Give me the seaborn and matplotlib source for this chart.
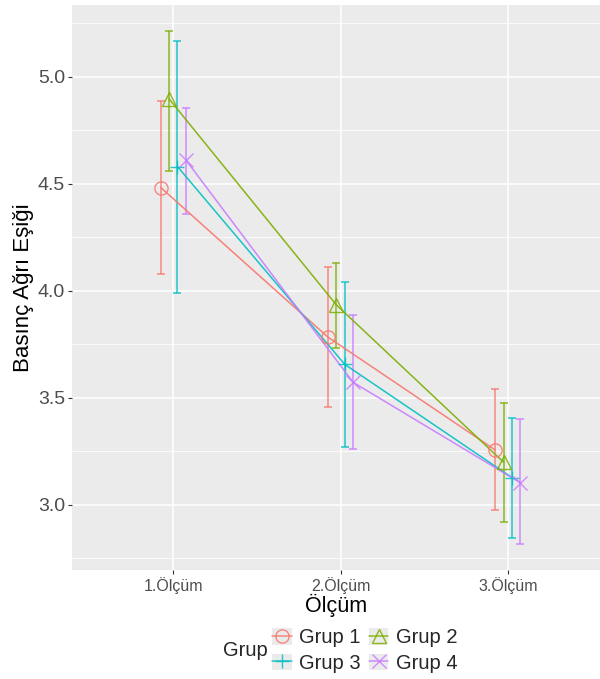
import numpy as np
import pandas as pd
import matplotlib
matplotlib.use("Agg")
import matplotlib.pyplot as plt
from matplotlib.lines import Line2D
from matplotlib.patches import Patch
from matplotlib.legend_handler import HandlerTuple
import seaborn as sns

# ---- data ----
categories = ["1.Ölçüm", "2.Ölçüm", "3.Ölçüm"]
groups = ["Grup 1", "Grup 2", "Grup 3", "Grup 4"]
means = {
    "Grup 1": [4.483, 3.784, 3.257],
    "Grup 2": [4.897, 3.935, 3.200],
    "Grup 3": [4.581, 3.657, 3.128],
    "Grup 4": [4.612, 3.573, 3.104],
}
lower = {
    "Grup 1": [4.078, 3.458, 2.977],
    "Grup 2": [4.561, 3.734, 2.922],
    "Grup 3": [3.992, 3.272, 2.844],
    "Grup 4": [4.360, 3.262, 2.816],
}
upper = {
    "Grup 1": [4.886, 4.111, 3.541],
    "Grup 2": [5.216, 4.132, 3.478],
    "Grup 3": [5.170, 4.042, 3.405],
    "Grup 4": [4.853, 3.886, 3.402],
}
y_ticks = [3.0, 3.5, 4.0, 4.5, 5.0]

colors = ["#F8766D", "#7CAE00", "#00BFC4", "#C77CFF"]
markers = ["o", "^", "+", "x"]

rows = []
for gi, g in enumerate(groups):
    for ci, c in enumerate(categories):
        rows.append(dict(grup=g, olcum=c, ci=ci, gi=gi,
                         mean=means[g][ci], lo=lower[g][ci], hi=upper[g][ci]))
df = pd.DataFrame(rows)
dodge_w = 0.2
n = len(groups)
df["x"] = df["ci"] + 1 + (df["gi"] - (n - 1) / 2) * dodge_w / n

sns.set_theme(style="darkgrid")
plt.rcParams["font.family"] = ["Liberation Sans", "DejaVu Sans"]

fig = plt.figure(figsize=(6.0, 6.79), dpi=100)
ax = fig.add_axes([72 / 600, 1 - 570 / 679, (600 - 72) / 600, (570 - 5) / 679])
ax.set_facecolor("#EBEBEB")

palette = dict(zip(groups, colors))
sns.lineplot(data=df, x="x", y="mean", hue="grup", palette=palette,
             estimator=None, sort=True, lw=1.1, legend=False, ax=ax, zorder=3,
             alpha=0.9)

for gi, g in enumerate(groups):
    sub = df[df.grup == g]
    ax.errorbar(sub["x"], sub["mean"],
                yerr=[sub["mean"] - sub["lo"], sub["hi"] - sub["mean"]],
                fmt="none", ecolor=colors[gi], elinewidth=1.1, capsize=3.2,
                capthick=1.1, zorder=2, alpha=0.85)
    mk = markers[gi]
    if mk in ("+", "x"):
        ax.plot(sub["x"], sub["mean"], linestyle="none", marker=mk,
                color=colors[gi], markersize=10, markeredgewidth=1.0, zorder=4,
                alpha=0.85)
    else:
        ax.plot(sub["x"], sub["mean"], linestyle="none", marker=mk,
                markerfacecolor="none", markeredgecolor=colors[gi],
                markersize=9.5, markeredgewidth=1.0, zorder=4, alpha=0.85)

ax.set_xlim(0.394, 3.552)
ax.set_ylim(2.696, 5.336)
ax.set_xticks([1, 2, 3])
ax.set_xticklabels(categories)
ax.set_yticks(y_ticks)
ax.set_yticklabels([f"{v:.1f}" for v in y_ticks])
ax.yaxis.set_minor_locator(matplotlib.ticker.MultipleLocator(0.25))
ax.grid(which="major", color="white", lw=1.1)
ax.grid(which="minor", axis="y", color="white", lw=0.55)
ax.grid(which="minor", axis="x", visible=False)
for s in ax.spines.values():
    s.set_visible(False)
ax.tick_params(axis="both", which="major", length=3, width=0.8, color="#333333",
               pad=2, left=True, bottom=True)
ax.tick_params(axis="y", which="major", labelsize=14, labelcolor="#4D4D4D")
ax.tick_params(axis="x", which="major", labelsize=11.5, labelcolor="#4D4D4D")
ax.tick_params(which="minor", length=0)
ax.set_xlabel("Ölçüm", fontsize=15.5, color="black", labelpad=0)
ax.set_ylabel("Basınç Ağrı Eşiği", fontsize=16, color="black", labelpad=3)

handles = []
for gi, g in enumerate(groups):
    mk = markers[gi]
    if mk in ("+", "x"):
        h = Line2D([0], [0], color=colors[gi], lw=1.1, marker=mk, markersize=10,
                   markeredgewidth=1.0, alpha=0.85)
    else:
        h = Line2D([0], [0], color=colors[gi], lw=1.1, marker=mk, markersize=9.5,
                   markerfacecolor="none", markeredgecolor=colors[gi],
                   markeredgewidth=1.0, alpha=0.85)
    bg = Patch(facecolor="#EBEBEB", edgecolor="none")
    handles.append((bg, h))

# row-wise order: Grup1 Grup2 / Grup3 Grup4 -> column-major fill
order = [0, 2, 1, 3]
leg = fig.legend([handles[i] for i in order], [groups[i] for i in order],
                 handler_map={tuple: HandlerTuple(ndivide=1, pad=0)},
                 ncol=2, loc="center",
                 bbox_to_anchor=(0.608, 1 - 650.5 / 679), frameon=False,
                 fontsize=14.5, handlelength=0.95, handleheight=0.9,
                 handletextpad=0.35, columnspacing=0.45, labelspacing=0.3,
                 borderpad=0)
fig.text(245 / 600, 1 - 651 / 679, "Grup", fontsize=14.5, ha="center", va="center")

fig.savefig("out.png", dpi=100, facecolor="white")
